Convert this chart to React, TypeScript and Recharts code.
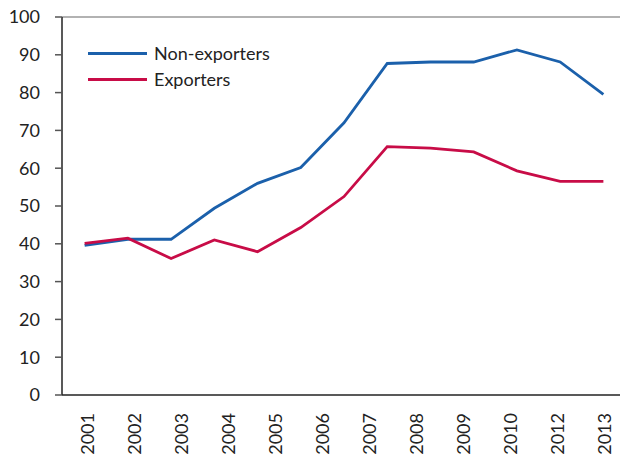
import React from 'react';
import { LineChart, Line, XAxis, YAxis, Legend, ReferenceLine } from 'recharts';

const years = ['2001', '2002', '2003', '2004', '2005', '2006', '2007', '2008', '2009', '2010', '2011', '2012', '2013'];
const nonExporters = [39.6, 41.2, 41.2, 49.4, 56.0, 60.2, 72.0, 87.7, 88.1, 88.1, 91.3, 88.1, 79.5];
const exporters = [40.1, 41.5, 36.1, 41.0, 37.9, 44.3, 52.5, 65.7, 65.3, 64.3, 59.3, 56.5, 56.5];
const tickLabels = ['2001', '2002', '2003', '2004', '2005', '2006', '2007', '2008', '2009', '2010', '2012', '2013'];
const yTicks = [0, 10, 20, 30, 40, 50, 60, 70, 80, 90, 100];

const BLUE = '#1b60ab';
const RED = '#c80c47';
const FONT = 'Lato, "Open Sans", sans-serif';

const series = [
  { key: 'non', name: 'Non-exporters', color: BLUE },
  { key: 'exp', name: 'Exporters', color: RED },
];

const data = years.map((y, i) => ({ year: y, pos: i + 0.5, non: nonExporters[i], exp: exporters[i] }));
const boundaryTicks = years.slice(0, 13).map((_, i) => i);
const labelTicks = tickLabels.map((_, i) => i + 0.5);

const LabelTick = (props: any) => {
  const { x, y, payload } = props;
  const label = tickLabels[Math.floor(payload.value)];
  return (
    <g transform={`translate(${x},${y + 17})`}>
      <text transform="rotate(-90)" textAnchor="end" dy="0.36em" fill="#222" fontSize={18} fontFamily={FONT}>
        {label}
      </text>
    </g>
  );
};

const LegendContent = () => (
  <div style={{ fontFamily: FONT, fontSize: 18, color: '#222' }}>
    {series.map((s) => (
      <div key={s.key} style={{ display: 'flex', alignItems: 'center', height: 26 }}>
        <span style={{ display: 'inline-block', width: 59, height: 3, background: s.color, marginRight: 7 }} />
        <span style={{ lineHeight: '26px' }}>{s.name}</span>
      </div>
    ))}
  </div>
);

export default function App() {
  return (
    <div style={{ position: 'absolute', left: 0, top: 0, width: 620, height: 460, background: '#fff' }}>
      <LineChart width={620} height={460} data={data} margin={{ top: 17, right: 0, bottom: 0, left: 0 }}>
        <XAxis
          xAxisId="data"
          dataKey="pos"
          type="number"
          domain={[0, 13]}
          ticks={boundaryTicks}
          allowDataOverflow
          height={1}
          padding={{ left: 1, right: -5 }}
          tick={false}
          tickSize={7}
          tickLine={{ stroke: '#888', strokeWidth: 1.5 }}
          axisLine={{ stroke: '#222', strokeWidth: 1.5 }}
        />
        <XAxis
          xAxisId="labels"
          dataKey="pos"
          type="number"
          domain={[0, 12]}
          ticks={labelTicks}
          allowDataOverflow
          interval={0}
          height={64}
          padding={{ left: 2, right: -8 }}
          tickSize={0}
          tickMargin={0}
          tickLine={false}
          axisLine={false}
          tick={<LabelTick />}
        />
        <YAxis
          domain={[0, 100]}
          ticks={yTicks}
          interval={0}
          width={62}
          tickSize={7}
          tickMargin={15}
          tickLine={{ stroke: '#555', strokeWidth: 1.5 }}
          axisLine={{ stroke: '#222', strokeWidth: 1.5 }}
          tick={{ fill: '#222', fontSize: 18, fontFamily: FONT }}
        />
        <ReferenceLine xAxisId="data" y={100} stroke="#999" strokeWidth={1.5} />
        <Legend
          layout="vertical"
          align="center"
          verticalAlign="middle"
          content={<LegendContent />}
          wrapperStyle={{ left: 88, top: 40, width: 'auto' }}
        />
        {series.map((s) => (
          <Line
            key={s.key}
            xAxisId="data"
            type="linear"
            dataKey={s.key}
            name={s.name}
            stroke={s.color}
            strokeWidth={2.8}
            dot={false}
            activeDot={false}
            isAnimationActive={false}
          />
        ))}
      </LineChart>
    </div>
  );
}
